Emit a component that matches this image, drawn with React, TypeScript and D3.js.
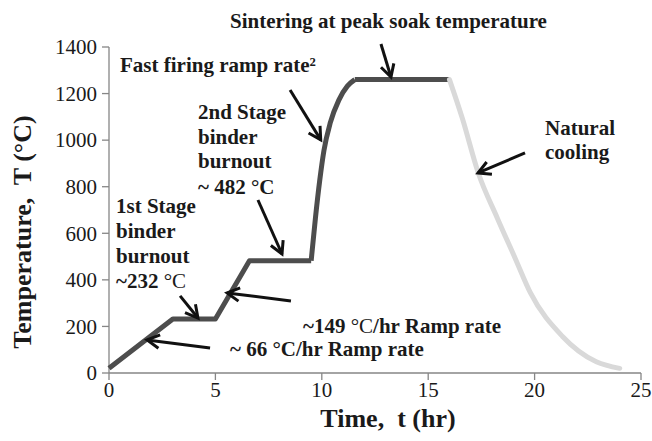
import React from "react";
import * as d3 from "d3";

// ---- data (time in hr, temperature in °C) ----
const heatT = [0, 3.0, 5.0, 6.6, 9.5];
const heatV = [20, 232, 232, 482, 482];
const fireT = [9.5, 9.7, 9.9, 10.1, 10.4, 10.8, 11.2, 11.55];
const fireV = [482, 665, 825, 955, 1075, 1172, 1232, 1260];
const soakT = [11.55, 16.0];
const soakV = [1260, 1260];
const coolT = [16.0, 16.6, 17.35, 18.25, 19.1, 19.8, 21.3, 22.9, 24.0];
const coolV = [1260, 1095, 860, 665, 490, 345, 158, 48, 20];
const xTicks = [0, 5, 10, 15, 20, 25];
const yTicks = [0, 200, 400, 600, 800, 1000, 1200, 1400];

// arrows: [tailT, tailV, tipT, tipV]
const arrows: number[][] = [
  [12.78, 1413, 13.25, 1271],
  [8.51, 1215, 9.95, 1001],
  [7.0, 743, 8.13, 511],
  [3.34, 331, 4.18, 236],
  [8.55, 309, 5.55, 344],
  [4.75, 107, 1.79, 142],
  [19.55, 945, 17.34, 859],
];

const W = 652;
const H = 441;
const x = d3.scaleLinear().domain([0, 25]).range([109, 641]);
const y = d3.scaleLinear().domain([0, 1400]).range([373, 47]);

const zip = (a: number[], b: number[]) => a.map((v, i) => [v, b[i]] as [number, number]);
const lin = d3.line<[number, number]>().x(d => x(d[0])).y(d => y(d[1]));
const mono = d3.line<[number, number]>().x(d => x(d[0])).y(d => y(d[1])).curve(d3.curveMonotoneX);

function Arrow({ a }: { a: number[] }) {
  const x1 = x(a[0]), y1 = y(a[1]), x2 = x(a[2]), y2 = y(a[3]);
  const ang = Math.atan2(y2 - y1, x2 - x1);
  const L = 14, sp = 0.5;
  const p1 = [x2 - L * Math.cos(ang - sp), y2 - L * Math.sin(ang - sp)];
  const p2 = [x2 - L * Math.cos(ang + sp), y2 - L * Math.sin(ang + sp)];
  return (
    <g stroke="#111" strokeWidth={3} fill="none" strokeLinecap="butt" strokeLinejoin="miter">
      <line x1={x1} y1={y1} x2={x2} y2={y2} />
      <polyline points={`${p1[0]},${p1[1]} ${x2},${y2} ${p2[0]},${p2[1]}`} />
    </g>
  );
}

export default function App() {
  const serif = "'Liberation Serif', 'Times New Roman', serif";
  const ann = { fontFamily: serif, fontSize: 21, fontWeight: 700, fill: "#1a1a1a" } as const;
  const tick = { fontFamily: serif, fontSize: 21, fontWeight: 400, fill: "#1a1a1a" } as const;
  return (
    <svg width={W} height={H} style={{ position: "absolute", left: 0, top: 0, background: "#fff" }}>
      {/* axes */}
      <g stroke="#868686" strokeWidth={1.3} fill="none">
        <line x1={x(0)} y1={y(0)} x2={x(25)} y2={y(0)} />
        <line x1={x(0)} y1={y(0)} x2={x(0)} y2={y(1400)} />
        {xTicks.map(t => (
          <line key={"xt" + t} x1={x(t)} x2={x(t)} y1={y(0)} y2={y(0) + 7} />
        ))}
        {yTicks.map(t => (
          <line key={"yt" + t} x1={x(0) - 7} x2={x(0)} y1={y(t)} y2={y(t)} />
        ))}
      </g>
      {xTicks.map(t => (
        <text key={"xl" + t} x={x(t)} y={397} textAnchor="middle" {...tick}>{t}</text>
      ))}
      {yTicks.map(t => (
        <text key={"yl" + t} x={97} y={y(t)} dy="0.35em" textAnchor="end" {...tick}>{t}</text>
      ))}
      <text x={388} y={427} textAnchor="middle" fontFamily={serif} fontSize={26} fontWeight={700} fill="#1a1a1a" xmlSpace="preserve">
        Time,  t (hr)
      </text>
      <text transform="translate(31,232) rotate(-90)" textAnchor="middle" fontFamily={serif} fontSize={26} fontWeight={700} fill="#1a1a1a" xmlSpace="preserve">
        Temperature,  T (°C)
      </text>

      {/* curve */}
      <path d={lin(zip(heatT, heatV)) || ""} stroke="#4d4d4d" strokeWidth={5} fill="none" strokeLinejoin="round" />
      <path d={mono(zip(fireT, fireV)) || ""} stroke="#4d4d4d" strokeWidth={5} fill="none" strokeLinejoin="round" />
      <path d={lin(zip(soakT, soakV)) || ""} stroke="#4d4d4d" strokeWidth={5} fill="none" />
      <path d={mono(zip(coolT, coolV)) || ""} stroke="#d9d9d9" strokeWidth={5} fill="none" strokeLinecap="round" />

      {/* arrows */}
      {arrows.map((a, i) => <Arrow key={i} a={a} />)}

      {/* annotations */}
      <text x={230} y={28} {...ann}>Sintering at peak soak temperature</text>
      <text x={120} y={72} {...ann}>Fast firing ramp rate²</text>
      <text {...ann}>
        <tspan x={198} y={119}>2nd Stage</tspan>
        <tspan x={198} y={144}>binder</tspan>
        <tspan x={198} y={168}>burnout</tspan>
        <tspan x={198} y={194}>~ 482 °C</tspan>
      </text>
      <text {...ann}>
        <tspan x={116} y={213}>1st Stage</tspan>
        <tspan x={116} y={238}>binder</tspan>
        <tspan x={116} y={263}>burnout</tspan>
        <tspan x={116} y={288}>~232 <tspan fontWeight={400}>°C</tspan></tspan>
      </text>
      <text x={303} y={333} {...ann}>~149 <tspan fontWeight={400}>°C</tspan>/hr Ramp rate</text>
      <text x={230} y={356} {...ann}>~ 66 °C/hr Ramp rate</text>
      <text {...ann}>
        <tspan x={545} y={135}>Natural</tspan>
        <tspan x={545} y={159}>cooling</tspan>
      </text>
    </svg>
  );
}
